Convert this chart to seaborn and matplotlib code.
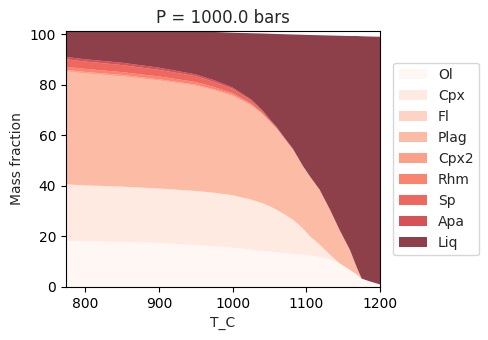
import numpy as np
import pandas as pd
import seaborn as sns
import matplotlib
matplotlib.use("Agg")
import matplotlib.pyplot as plt

sns.set_style("ticks")
plt.rcParams["font.family"] = ["DejaVu Sans"]

# temperature grid (deg C) and phase mass fractions
T_C = [774, 800, 850, 900, 950, 975, 1000, 1025, 1040, 1050, 1060, 1070,
       1082, 1095, 1105, 1118, 1132, 1145, 1159, 1168, 1175, 1185, 1200]
Ol = [18.3, 18.1, 17.8, 17.5, 16.6, 16.1, 15.6, 14.8, 14.3, 14.0, 13.7, 13.4,
      13.1, 12.8, 12.5, 11.9, 11.0, 9.2, 6.8, 5.0, 3.3, 2.3, 1.0]
Cpx = [22.3, 22.1, 21.9, 21.5, 21.4, 21.2, 20.7, 19.8, 18.9, 18.0, 16.8, 15.4,
       13.5, 10.5, 7.5, 4.9, 1.8, 0.2, 0, 0, 0, 0, 0]
Fl = [0] * 23
Plag = [44.7, 44.3, 43.6, 42.7, 41.6, 40.5, 39.3, 37.2, 35.3, 33.5, 32.0, 30.0,
        27.7, 24.7, 23.7, 21.7, 17.8, 13.2, 7.9, 3.0, 0, 0, 0]
Cpx2 = [0.6, 0.6, 0.6, 0.5, 0.5, 0.4, 0.4, 0.3, 0.1, 0.1, 0.1, 0,
        0, 0, 0, 0, 0, 0, 0, 0, 0, 0, 0]
Rhm = [1.2, 1.2, 1.1, 1.1, 1.0, 0.9, 0.7, 0.5, 0.3, 0.2, 0.1, 0.1,
       0.1, 0, 0, 0, 0, 0, 0, 0, 0, 0, 0]
Sp = [3.0, 2.9, 2.8, 2.6, 2.3, 2.0, 1.7, 1.2, 0.9, 0.5, 0.4, 0.2,
      0.2, 0, 0, 0, 0, 0, 0, 0, 0, 0, 0]
Apa = [0.9, 0.9, 0.9, 0.9, 0.7, 0.7, 0.5, 0.4, 0.2, 0.2, 0.1, 0.1,
       0, 0, 0, 0, 0, 0, 0, 0, 0, 0, 0]
Liq = [10.4, 11.3, 12.7, 14.5, 17.0, 19.1, 21.7, 26.2, 30.3, 33.7, 36.9, 40.8,
       45.3, 51.8, 56.0, 61.1, 68.9, 76.8, 84.6, 91.3, 95.9, 96.8, 98.0]

phases = ["Ol", "Cpx", "Fl", "Plag", "Cpx2", "Rhm", "Sp", "Apa", "Liq"]
df = pd.DataFrame({"T_C": T_C, "Ol": Ol, "Cpx": Cpx, "Fl": Fl, "Plag": Plag,
                   "Cpx2": Cpx2, "Rhm": Rhm, "Sp": Sp, "Apa": Apa, "Liq": Liq})

reds = sns.color_palette("Reds", as_cmap=True)
colors = [reds(v) for v in np.linspace(0, 0.75, 8)] + [reds(1.0)]

fig = plt.figure(figsize=(4.88, 3.4), dpi=100)
ax = fig.add_axes([0.135, 0.156, 0.644, 0.753])
ax.stackplot(df["T_C"], [df[p] for p in phases], labels=phases,
             colors=colors, alpha=0.75, linewidth=0, edgecolor="none")

ax.set_xlim(774, 1200)
ax.set_ylim(0, 101.3)
ax.set_xticks([800, 900, 1000, 1100, 1200])
ax.set_yticks([0, 20, 40, 60, 80, 100])
ax.set_xlabel("T_C")
ax.set_ylabel("Mass fraction")
ax.set_title("P = 1000.0 bars", fontsize=12)
for s in ax.spines.values():
    s.set_color("black")
ax.tick_params(colors="black")

ax.legend(loc="center left", bbox_to_anchor=(1.02, 0.5), fontsize=10)

fig.savefig("out.png", dpi=100)
